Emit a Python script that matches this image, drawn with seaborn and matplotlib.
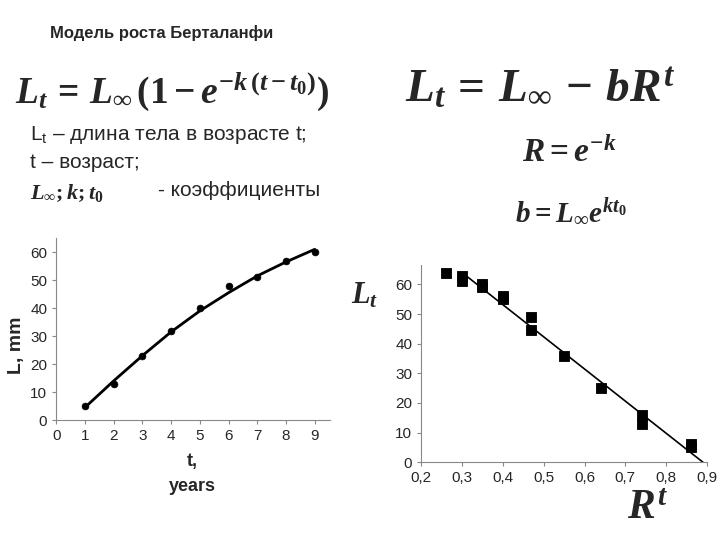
import matplotlib
matplotlib.use("Agg")
import matplotlib.pyplot as plt
import numpy as np
import pandas as pd
import seaborn as sns

# growth data (left panel)
age = [1, 2, 3, 4, 5, 6, 7, 8, 9]
length = [5, 13, 23, 32, 40, 48, 51, 57, 60]
fit_length = [4.5, 14, 23, 31.5, 39, 45.5, 51.5, 56.5, 61]

# linearised data (right panel)
rt = [0.26, 0.30, 0.30, 0.35, 0.35, 0.40, 0.40, 0.47, 0.47, 0.55, 0.64, 0.74, 0.74, 0.86, 0.86]
lt = [64, 63, 61, 59, 60, 55, 56, 49, 44.5, 36, 25, 16, 13, 5, 6]
line_rt = [0.30, 0.89]
line_lt = [64, 0]

sns.set_style("white")
plt.rcParams['font.family'] = ['Liberation Sans', 'DejaVu Sans']
plt.rcParams['mathtext.fontset'] = 'custom'
plt.rcParams['mathtext.rm'] = 'Liberation Serif:bold'
plt.rcParams['mathtext.it'] = 'Liberation Serif:bold:italic'

fig = plt.figure(figsize=(7.2, 5.4), dpi=100)

def px(x, y):
    return x / 720, 1 - y / 540

# text blocks
fig.text(*px(50, 33), "Модель роста Берталанфи", fontsize=12, fontweight='bold', va='center')
fig.text(*px(15, 92), r"$L_t\,=\,L_\infty\,(1-e^{-k\,(t-t_0)})$", fontsize=27, va='center')
fig.text(*px(405, 90), r"$L_t\,=\,L_\infty\,-\,bR^t$", fontsize=34, va='center')
fig.text(*px(522, 153), r"$R=e^{-k}$", fontsize=24, va='center')
fig.text(*px(515, 213), r"$b=L_\infty e^{kt_0}$", fontsize=21, va='center')
fig.text(*px(30, 135), "L$_{\\mathregular{t}}$ – длина тела в возрасте t;", fontsize=15, va='center')
fig.text(*px(30, 162), "t – возраст;", fontsize=15, va='center')
fig.text(*px(30, 193), r"$L_\infty;k;t_0$", fontsize=16, va='center')
fig.text(*px(158, 190), "- коэффициенты", fontsize=15, va='center')

# left panel
ax1 = fig.add_axes([0.078, 0.222, 0.381, 0.337])
sns.scatterplot(x=age, y=length, ax=ax1, color='black', s=25, edgecolor='black')
sns.lineplot(x=age, y=fit_length, ax=ax1, color='black', linewidth=2)
ax1.set_xlim(0, 9.55)
ax1.set_ylim(0, 65)
ax1.set_xticks(range(10))
ax1.set_yticks(range(0, 61, 10))
for s in ['top', 'right']:
    ax1.spines[s].set_visible(False)
for s in ['left', 'bottom']:
    ax1.spines[s].set_color('#888888')
ax1.tick_params(labelsize=11, length=3, direction='out', left=True, bottom=True, color='#888888')
fig.text(*px(16, 345), "L, mm", rotation=90, fontsize=14, fontweight='bold', va='center', ha='center')
fig.text(*px(192, 474), "t,\nyears", fontsize=13, fontweight='bold', ha='center', va='center', linespacing=1.6)

# right panel
ax2 = fig.add_axes([0.585, 0.144, 0.397, 0.365])
sns.scatterplot(x=rt, y=lt, ax=ax2, color='black', marker='s', s=60, edgecolor='black')
sns.lineplot(x=line_rt, y=line_lt, ax=ax2, color='black', linewidth=1.2)
ax2.set_xlim(0.2, 0.9)
ax2.set_ylim(0, 66.5)
ax2.set_xticks(np.round(np.arange(0.2, 0.91, 0.1), 1))
ax2.set_xticklabels(["0,2", "0,3", "0,4", "0,5", "0,6", "0,7", "0,8", "0,9"])
ax2.set_yticks(range(0, 61, 10))
for s in ['top', 'right']:
    ax2.spines[s].set_visible(False)
for s in ['left', 'bottom']:
    ax2.spines[s].set_color('#888888')
ax2.tick_params(labelsize=11, length=3, direction='out', left=True, bottom=True, color='#888888')
fig.text(*px(365, 296), r"$L_t$", fontsize=22, ha='center', va='center')
fig.text(*px(648, 508), r"$R^t$", fontsize=30, ha='center', va='center')

fig.savefig("out.png", dpi=100)
